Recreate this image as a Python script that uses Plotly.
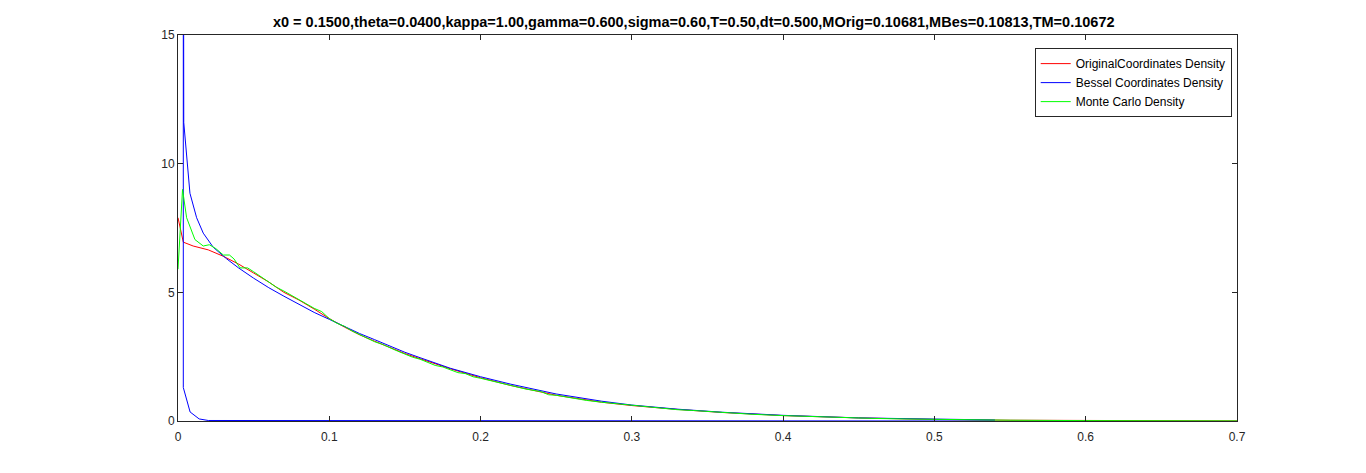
import plotly.graph_objects as go

# Original coordinates density (red)
x_orig = [0, 0.0035, 0.01, 0.02, 0.03, 0.04, 0.05, 0.06, 0.07, 0.08, 0.09, 0.10, 0.11, 0.12, 0.13,
          0.14, 0.15, 0.16, 0.18, 0.20, 0.22, 0.25, 0.28, 0.30, 0.33, 0.36, 0.40, 0.45, 0.50,
          0.55, 0.60, 0.65, 0.70]
y_orig = [7.9, 6.95, 6.8, 6.65, 6.4, 6.1, 5.75, 5.4, 5.0, 4.7, 4.35, 3.98, 3.65, 3.35, 3.1,
          2.85, 2.62, 2.42, 2.03, 1.68, 1.38, 1.0, 0.73, 0.6, 0.45, 0.33, 0.21, 0.12, 0.06,
          0.03, 0.015, 0.008, 0.004]

# Bessel coordinates density (blue): lower branch then upper branch
x_bes = [0.54, 0.45, 0.35, 0.25, 0.15, 0.08, 0.04, 0.025, 0.02, 0.014, 0.008, 0.0035,
         0.0035, 0.0038, 0.0079, 0.0123, 0.0167, 0.0233, 0.0322, 0.04, 0.05, 0.06, 0.07,
         0.08, 0.09, 0.10, 0.11, 0.12, 0.13, 0.14, 0.15, 0.16, 0.17, 0.18, 0.20, 0.22,
         0.25, 0.28, 0.30, 0.33, 0.36, 0.40, 0.45, 0.50, 0.54]
y_bes = [0, 0, 0, 0, 0, 0, 0, 0.005, 0.02, 0.08, 0.35, 1.3,
         30, 11.6, 8.85, 7.9, 7.3, 6.75, 6.3, 5.95, 5.55, 5.18, 4.85,
         4.53, 4.22, 3.95, 3.67, 3.4, 3.16, 2.9, 2.67, 2.46, 2.25, 2.05, 1.72, 1.43,
         1.05, 0.77, 0.62, 0.46, 0.34, 0.22, 0.12, 0.065, 0.04]

# Monte Carlo density (green)
x_mc = [0, 0.003, 0.0057, 0.0112, 0.0167, 0.0207, 0.025, 0.03, 0.034, 0.037, 0.041, 0.046,
        0.05, 0.055, 0.06, 0.065, 0.07, 0.075, 0.08, 0.085, 0.09, 0.095, 0.10, 0.105, 0.11,
        0.115, 0.12, 0.125, 0.13, 0.135, 0.14, 0.145, 0.15, 0.155, 0.16, 0.165, 0.17, 0.175,
        0.18, 0.185, 0.19, 0.195, 0.20, 0.21, 0.22, 0.23, 0.24, 0.245, 0.25, 0.26, 0.27,
        0.28, 0.29, 0.30, 0.31, 0.32, 0.33, 0.34, 0.35, 0.36, 0.38, 0.40, 0.42, 0.44, 0.46,
        0.48, 0.50, 0.52, 0.55, 0.60, 0.65, 0.70]
y_mc = [5.9, 9.0, 7.9, 7.05, 6.8, 6.85, 6.7, 6.45, 6.45, 6.3, 5.95, 5.95,
        5.8, 5.6, 5.4, 5.2, 5.05, 4.88, 4.72, 4.52, 4.38, 4.25, 3.98, 3.8, 3.68,
        3.5, 3.36, 3.25, 3.08, 2.98, 2.84, 2.72, 2.6, 2.48, 2.4, 2.28, 2.16, 2.1,
        2.0, 1.88, 1.84, 1.72, 1.66, 1.52, 1.38, 1.24, 1.14, 1.02, 1.0, 0.9, 0.8,
        0.73, 0.67, 0.6, 0.55, 0.5, 0.44, 0.41, 0.37, 0.33, 0.26, 0.21, 0.17, 0.13, 0.1,
        0.08, 0.06, 0.045, 0.03, 0.015, 0.008, 0.004]

x_ticks = [0, 0.1, 0.2, 0.3, 0.4, 0.5, 0.6, 0.7]
x_tick_labels = ["0", "0.1", "0.2", "0.3", "0.4", "0.5", "0.6", "0.7"]
y_ticks = [0, 5, 10, 15]

title = ("x0 = 0.1500,theta=0.0400,kappa=1.00,gamma=0.600,sigma=0.60,T=0.50,dt=0.500,"
         "MOrig=0.10681,MBes=0.10813,TM=0.10672")

fig = go.Figure()
fig.add_trace(go.Scatter(x=x_orig, y=y_orig, mode="lines", name="OriginalCoordinates Density",
                         line=dict(color="#ff0000", width=1)))
fig.add_trace(go.Scatter(x=x_bes, y=y_bes, mode="lines", name="Bessel Coordinates Density",
                         line=dict(color="#0000ff", width=1)))
fig.add_trace(go.Scatter(x=x_mc, y=y_mc, mode="lines", name="Monte Carlo Density",
                         line=dict(color="#00ff00", width=1)))

axis_common = dict(showgrid=False, zeroline=False, showline=True, linecolor="#262626",
                   linewidth=1, mirror="ticks", ticks="inside", ticklen=5, tickcolor="#262626",
                   tickfont=dict(family="Liberation Sans, Arial", size=12, color="#262626"))

fig.update_layout(
    width=1366, height=473,
    paper_bgcolor="white", plot_bgcolor="white",
    margin=dict(l=170, r=137, t=27, b=60),
    title=dict(text="<b>" + title + "</b>", x=0.487, xref="paper", xanchor="center",
               y=1, yref="paper", yanchor="bottom", pad=dict(b=8),
               font=dict(family="Liberation Sans, Arial", size=14.5, color="black")),
    xaxis=dict(range=[0, 0.7], tickvals=x_ticks, ticktext=x_tick_labels,
               ticklabelstandoff=5, **axis_common),
    yaxis=dict(range=[0, 15], tickvals=y_ticks, **axis_common),
    showlegend=True,
    legend=dict(x=0.995, y=0.966, xanchor="right", yanchor="top", bgcolor="white",
                bordercolor="#262626", borderwidth=1, tracegroupgap=0, itemwidth=30,
                font=dict(family="Liberation Sans, Arial", size=12, color="black")),
)

fig.write_html("out.html")
